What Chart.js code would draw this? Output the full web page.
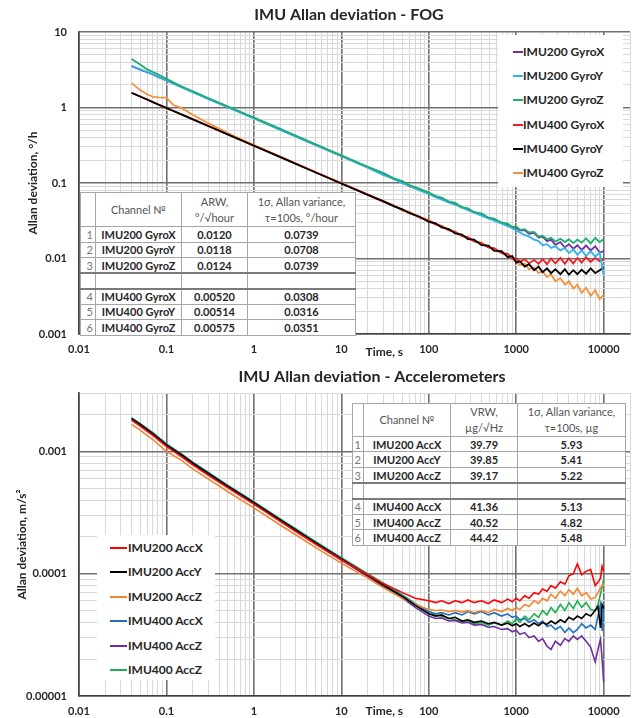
<!DOCTYPE html>
<html><head><meta charset="utf-8">
<script src="https://cdn.jsdelivr.net/npm/chart.js@4.4.1/dist/chart.umd.min.js"></script>
<style>
html,body{margin:0;padding:0;background:#fff;}
#wrap{position:relative;width:639px;height:718px;overflow:hidden;font-family:Lato,"Open Sans",sans-serif;}
canvas{position:absolute;left:0;}
#c1{top:0;} #c2{top:360px;}
.tbl{position:absolute;border-collapse:collapse;background:#fff;table-layout:fixed;}
.tbl td{border:1px solid #a6a6a6;padding:0;text-align:center;font-size:11px;font-weight:700;color:#262626;white-space:nowrap;overflow:hidden;line-height:1;}
.tbl td.n{font-weight:400;color:#777;text-align:right;padding-right:2px;}
.tbl tr.h td{font-weight:400;color:#555;line-height:1.45;}
.tbl tr.sep td{border-bottom:2px solid #7a7a7a;}
.tbl tr.blank td{border-bottom:2px solid #7a7a7a;}
.leg{position:absolute;background:#fff;}
.leg .it{position:absolute;left:0;height:14px;font-size:12px;font-weight:700;color:#262626;white-space:nowrap;line-height:14px;}
.leg .sw{position:absolute;height:2px;top:6px;}
.leg .tx{position:absolute;top:0;}
</style></head>
<body>
<div id="wrap">
<canvas id="c1" width="639" height="360"></canvas>
<canvas id="c2" width="639" height="358"></canvas>
</div>
<script>
// ---------------- data ----------------
const xTickLabels = ['0.01','0.1','1','10','100','1000','10000'];
const yTickLabelsGyro = ['0.001','0.01','0.1','1','10'];
const yTickLabelsAcc = ['0.00001','0.0001','0.001'];

const gyroNames = ['IMU200 GyroX','IMU200 GyroY','IMU200 GyroZ','IMU400 GyroX','IMU400 GyroY','IMU400 GyroZ'];
const gyroColors = ['#7030A0','#2FB4E6','#1FAE72','#F01E23','#000000','#F3923A'];

const tauGyro = [0.04,0.05,0.06,0.07,0.08,0.1,0.12,0.15,0.2,0.3,
 0.5,1,2,5,10,20,30,40,50,60,
 80,100,120,140,170,200,240,280,330,400,
 480,560,680,800,900,1000,1100,1250,1400,1600,
 1800,2000,2250,2500,2800,3200,3600,4000,4500,5000,
 5600,6300,7100,8000,9000,10000];

const imu200GyroX = [3.52,3.18,2.93,2.74,2.55,2.29,2.09,1.86,1.61,1.31,
 1.02,0.725,0.512,0.325,0.229,0.162,0.133,0.112,0.103,0.091,
 0.081,0.0735,0.0660,0.0625,0.0560,0.0530,0.0475,0.0450,0.0408,0.0385,
 0.0345,0.0330,0.0296,0.0283,0.0258,0.0255,0.0236,0.0238,0.0212,0.0218,
 0.0190,0.0195,0.0170,0.0178,0.0152,0.0165,0.0140,0.0155,0.0135,0.0150,
 0.0130,0.0148,0.0128,0.0145,0.0120,0.0125];
const imu200GyroY = [3.55,3.2,2.95,2.75,2.55,2.28,2.08,1.85,1.6,1.3,
 1.01,0.715,0.505,0.32,0.226,0.160,0.128,0.113,0.099,0.092,
 0.079,0.0715,0.0650,0.0605,0.0548,0.0515,0.0470,0.0438,0.0405,0.0370,
 0.0340,0.0318,0.0290,0.0268,0.0252,0.0235,0.0222,0.0205,0.0195,0.0178,
 0.0170,0.0150,0.0155,0.0138,0.0145,0.0128,0.0138,0.0118,0.0132,0.0112,
 0.0128,0.0108,0.0125,0.0106,0.0120,0.0060];
const imu200GyroZ = [4.4,3.7,3.2,2.95,2.75,2.4,2.15,1.9,1.64,1.33,
 1.04,0.735,0.52,0.328,0.232,0.164,0.136,0.115,0.106,0.094,
 0.083,0.0745,0.0670,0.0640,0.0570,0.0545,0.0478,0.0462,0.0410,0.0395,
 0.0348,0.0338,0.0298,0.0290,0.0262,0.0265,0.0240,0.0245,0.0222,0.0225,
 0.0195,0.0200,0.0180,0.0188,0.0168,0.0182,0.0165,0.0180,0.0160,0.0178,
 0.0162,0.0185,0.0158,0.0188,0.0165,0.0180];
const imu400GyroX = [1.57,1.4,1.28,1.18,1.105,0.99,0.9,0.808,0.70,0.571,
 0.442,0.313,0.222,0.140,0.0990,0.0700,0.0565,0.0500,0.0435,0.0408,
 0.0345,0.0318,0.0280,0.0268,0.0235,0.0225,0.0198,0.0190,0.0168,0.0160,
 0.0140,0.0136,0.0118,0.0115,0.0100,0.0100,0.0090,0.0098,0.0086,0.0096,
 0.0085,0.0098,0.0084,0.0100,0.0086,0.0102,0.0085,0.0100,0.0086,0.0102,
 0.0088,0.0104,0.0090,0.0102,0.0092,0.0098];
const imu400GyroY = [1.56,1.4,1.275,1.18,1.10,0.985,0.9,0.805,0.697,0.569,
 0.44,0.311,0.22,0.139,0.0985,0.0695,0.0575,0.049,0.0448,0.0398,
 0.0355,0.0305,0.0292,0.0258,0.0245,0.0215,0.0208,0.0180,0.0178,0.0150,
 0.0148,0.0126,0.0125,0.0104,0.0108,0.0088,0.0092,0.0078,0.0084,0.0070,
 0.0078,0.0066,0.0074,0.0064,0.0072,0.0062,0.0072,0.0061,0.0070,0.0062,
 0.0071,0.0063,0.0074,0.0064,0.0070,0.0076];
const imu400GyroZ = [2.1,1.7,1.5,1.38,1.36,1.35,1.08,0.98,0.8,0.62,
 0.46,0.318,0.224,0.141,0.1,0.071,0.058,0.0505,0.0445,0.0412,
 0.0352,0.0322,0.0288,0.0270,0.0242,0.0228,0.0200,0.0192,0.0170,0.0162,
 0.0140,0.0137,0.0118,0.0112,0.0098,0.0092,0.0082,0.0085,0.0072,0.0076,
 0.0064,0.0068,0.0057,0.0062,0.0050,0.0055,0.0045,0.0050,0.0040,0.0045,
 0.0035,0.0041,0.0032,0.0038,0.0029,0.0033];

const accNames = ['IMU200 AccX','IMU200 AccY','IMU200 AccZ','IMU400 AccX','IMU400 AccZ','IMU400 AccZ'];
const accColors = ['#FF0000','#000000','#F5862E','#1F70C1','#7030A0','#1DB04E'];

const tauAcc = [0.04,0.05,0.07,0.1,0.15,0.2,0.3,0.5,1,2,
 3,5,10,20,30,50,70,100,120,140,
 170,200,240,280,330,400,480,560,680,800,
 900,1000,1100,1250,1400,1600,1800,2000,2250,2500,
 2800,3200,3600,4000,4500,5000,5600,6300,7100,8000,
 8600,9200,9600,10000];

const imu200AccX = [1.80e-3,1.61e-3,1.35e-3,1.10e-3,9.0e-4,7.75e-4,6.4e-4,5.05e-4,3.7e-4,2.68e-4,
 2.22e-4,1.76e-4,1.30e-4,9.8e-5,8.3e-5,7.0e-5,6.3e-5,6.0e-5,5.8e-5,6.0e-5,
 5.7e-5,6.0e-5,5.8e-5,6.1e-5,5.8e-5,6.0e-5,5.7e-5,6.1e-5,5.8e-5,6.2e-5,
 5.9e-5,6.3e-5,6.0e-5,6.6e-5,6.3e-5,7.0e-5,6.8e-5,7.5e-5,7.2e-5,8.0e-5,
 7.6e-5,8.6e-5,8.2e-5,9.6e-5,1.0e-4,1.2e-4,9.8e-5,1.05e-4,1.08e-4,8.0e-5,
 8.5e-5,9.2e-5,1.15e-4,1.05e-4];
const imu200AccY = [1.85e-3,1.66e-3,1.39e-3,1.13e-3,9.3e-4,8.0e-4,6.6e-4,5.2e-4,3.8e-4,2.75e-4,
 2.28e-4,1.8e-4,1.32e-4,9.7e-5,8.1e-5,6.5e-5,5.5e-5,4.7e-5,4.5e-5,4.6e-5,
 4.3e-5,4.4e-5,4.1e-5,4.2e-5,4.0e-5,4.1e-5,3.9e-5,4.0e-5,3.8e-5,3.95e-5,
 3.75e-5,3.9e-5,3.7e-5,3.9e-5,3.7e-5,3.95e-5,3.75e-5,4.0e-5,3.85e-5,4.1e-5,
 3.9e-5,4.2e-5,4.0e-5,4.4e-5,4.2e-5,4.5e-5,4.3e-5,4.7e-5,4.5e-5,5.0e-5,
 5.4e-5,3.6e-5,5.6e-5,5.2e-5];
const imu200AccZ = [1.66e-3,1.49e-3,1.25e-3,1.0e-3,8.4e-4,7.2e-4,5.95e-4,4.7e-4,3.45e-4,2.5e-4,
 2.08e-4,1.65e-4,1.22e-4,9.2e-5,7.7e-5,6.3e-5,5.6e-5,5.1e-5,5.0e-5,5.05e-5,
 4.9e-5,5.0e-5,4.85e-5,5.0e-5,4.8e-5,5.0e-5,4.8e-5,5.1e-5,4.9e-5,5.2e-5,
 5.0e-5,5.3e-5,5.1e-5,5.6e-5,5.4e-5,6.0e-5,5.7e-5,6.3e-5,6.0e-5,6.8e-5,
 6.3e-5,7.2e-5,6.6e-5,7.4e-5,6.8e-5,7.6e-5,6.6e-5,7.0e-5,6.2e-5,6.4e-5,
 7.0e-5,7.6e-5,8.0e-5,8.3e-5];
const imu400AccX = [1.87e-3,1.67e-3,1.40e-3,1.14e-3,9.4e-4,8.1e-4,6.65e-4,5.25e-4,3.83e-4,2.77e-4,
 2.3e-4,1.81e-4,1.33e-4,9.8e-5,8.1e-5,6.6e-5,5.6e-5,4.9e-5,4.7e-5,4.8e-5,
 4.6e-5,4.8e-5,4.6e-5,4.9e-5,4.7e-5,4.9e-5,4.6e-5,4.8e-5,4.5e-5,4.7e-5,
 4.4e-5,4.5e-5,4.2e-5,4.3e-5,4.0e-5,4.2e-5,3.9e-5,4.1e-5,3.7e-5,3.8e-5,
 3.5e-5,3.7e-5,3.3e-5,3.6e-5,3.3e-5,3.5e-5,3.9e-5,3.6e-5,3.8e-5,3.5e-5,
 4.5e-5,5.6e-5,3.4e-5,5.5e-5];
const imu400AccZa = [1.82e-3,1.63e-3,1.36e-3,1.11e-3,9.1e-4,7.85e-4,6.45e-4,5.1e-4,3.72e-4,2.7e-4,
 2.23e-4,1.76e-4,1.29e-4,9.5e-5,7.9e-5,6.3e-5,5.3e-5,4.5e-5,4.3e-5,4.35e-5,
 4.1e-5,4.15e-5,3.95e-5,4.0e-5,3.8e-5,3.85e-5,3.65e-5,3.7e-5,3.5e-5,3.55e-5,
 3.35e-5,3.45e-5,3.2e-5,3.3e-5,3.0e-5,3.1e-5,2.8e-5,2.95e-5,2.55e-5,2.4e-5,
 2.8e-5,2.6e-5,2.95e-5,2.8e-5,3.1e-5,2.9e-5,3.1e-5,2.8e-5,2.5e-5,1.9e-5,
 2.4e-5,2.9e-5,2.0e-5,1.3e-5];
const imu400AccZb = [1.88e-3,1.69e-3,1.42e-3,1.15e-3,9.5e-4,8.15e-4,6.75e-4,5.3e-4,3.88e-4,2.8e-4,
 2.33e-4,1.84e-4,1.35e-4,1.0e-4,8.4e-5,6.7e-5,5.7e-5,4.9e-5,4.6e-5,4.5e-5,
 4.3e-5,4.2e-5,4.0e-5,4.1e-5,3.9e-5,4.0e-5,3.8e-5,3.95e-5,3.8e-5,4.1e-5,
 3.9e-5,4.3e-5,4.0e-5,4.5e-5,4.2e-5,4.7e-5,4.4e-5,5.0e-5,4.6e-5,5.3e-5,
 4.8e-5,5.6e-5,5.0e-5,5.8e-5,5.2e-5,6.0e-5,5.3e-5,5.8e-5,5.1e-5,5.0e-5,
 5.6e-5,6.8e-5,7.8e-5,9.0e-5];

// tables
const gyroChannels = ['IMU200 GyroX','IMU200 GyroY','IMU200 GyroZ','IMU400 GyroX','IMU400 GyroY','IMU400 GyroZ'];
const gyroARW = ['0.0120','0.0118','0.0124','0.00520','0.00514','0.00575'];
const gyroSigma = ['0.0739','0.0708','0.0739','0.0308','0.0316','0.0351'];
const accChannels = ['IMU200 AccX','IMU200 AccY','IMU200 AccZ','IMU400 AccX','IMU400 AccZ','IMU400 AccZ'];
const accVRW = ['39.79','39.85','39.17','41.36','40.52','44.42'];
const accSigma = ['5.93','5.41','5.22','5.13','4.82','5.48'];

// ---------------- helpers ----------------
Chart.defaults.font.family = 'Lato, "Open Sans", sans-serif';
function isDecade(v){ const l=Math.log10(v); return Math.abs(l-Math.round(l))<1e-6; }
function labelFor(list, v){ for (const s of list){ if (Math.abs(parseFloat(s)/v-1)<1e-6) return s; } return ''; }
function logTicks(min,max){ const out=[]; for(let e=-6;e<=5;e++){ for(let m=1;m<=9;m++){ const v=m*Math.pow(10,e); if(v>=min*(1-1e-9)&&v<=max*(1+1e-9)) out.push({value:v}); } } return out; }

const figText = { id:'figText', afterDraw(chart, args, o){
  const ctx=chart.ctx; ctx.save();
  ctx.fillStyle='#262626'; ctx.textAlign='center'; ctx.textBaseline='middle';
  ctx.font='bold 16px Lato'; ctx.fillText(o.title, o.titleX, o.titleY);
  ctx.font='bold 12px Lato';
  ctx.fillText('Time, s', chart.scales.x.getPixelForValue(o.timeAt), chart.chartArea.bottom+o.timeDy);
  ctx.restore(); } };

function gridOpts(){ return {drawTicks:false,
  color: c => (c.tick && isDecade(c.tick.value)) ? '#707070' : '#d9d9d9',
  lineWidth: c => (c.tick && isDecade(c.tick.value)) ? 1.6 : 1 }; }

function makeChart(id, cfg){
  const datasets = cfg.series.map((s,i)=>({label:cfg.names[i],
    data: cfg.tau.map((t,j)=>({x:t,y:s[j]})), borderColor:cfg.colors[i], backgroundColor:cfg.colors[i],
    borderWidth:cfg.lw, pointRadius:0, showLine:true, tension:0, order:cfg.order[i]}));
  return new Chart(document.getElementById(id), {
    type:'scatter', data:{datasets},
    options:{ responsive:false, animation:false, devicePixelRatio:1,
      layout:{padding:{left:0,right:4,top:cfg.padTop,bottom:0}},
      plugins:{legend:{display:false}, tooltip:{enabled:false}, figText:cfg.text},
      scales:{
        x:{type:'logarithmic', min:0.01, max:20000,
          afterBuildTicks:s=>{s.ticks=logTicks(0.01,20000);}, afterFit:s=>{s.height=cfg.xH;},
          ticks:{autoSkip:false, maxRotation:0, padding:9, color:'#262626', font:{size:11,weight:'bold'},
            callback:v=>labelFor(xTickLabels,v)},
          grid:gridOpts(), border:{color:'#404040', width:1.6}},
        y:{type:'logarithmic', min:cfg.yMin, max:cfg.yMax,
          afterBuildTicks:s=>{s.ticks=logTicks(cfg.yMin,cfg.yMax);}, afterFit:s=>{s.width=79;},
          ticks:{autoSkip:false, padding:12, color:'#262626', font:{size:11,weight:'bold'},
            callback:v=>labelFor(cfg.yLabels,v)},
          title:{display:true, text:cfg.yTitle, color:'#262626', font:{size:12,weight:'bold'}, padding:{top:cfg.yTitlePad,bottom:0}},
          grid:gridOpts(), border:{color:'#404040', width:1.6}}
      }},
    plugins:[figText]});
}

makeChart('c1', {tau:tauGyro, series:[imu200GyroX,imu200GyroY,imu200GyroZ,imu400GyroX,imu400GyroY,imu400GyroZ],
  names:gyroNames, colors:gyroColors, order:[3,2,1,5,4,6], lw:1.8, padTop:32, xH:26,
  yMin:0.001, yMax:10, yLabels:yTickLabelsGyro, yTitle:'Allan deviation, °/h', yTitlePad:26,
  text:{title:'IMU Allan deviation - FOG', titleX:349, titleY:15, timeAt:31, timeDy:18}});
makeChart('c2', {tau:tauAcc, series:[imu200AccX,imu200AccY,imu200AccZ,imu400AccX,imu400AccZa,imu400AccZb],
  names:accNames, colors:accColors, order:[1,2,3,4,5,6], lw:1.6, padTop:33, xH:22,
  yMin:0.00001, yMax:0.003, yLabels:yTickLabelsAcc, yTitle:'Allan deviation, m/s²', yTitlePad:15,
  text:{title:'IMU Allan deviation - Accelerometers', titleX:372, titleY:17, timeAt:31, timeDy:15}});

// ---------------- legends & tables (HTML) ----------------
const wrap = document.getElementById('wrap');
function legend(names, colors, box, first, step, swL, swW, txL){
  const d=document.createElement('div'); d.className='leg';
  Object.assign(d.style,{left:box[0]+'px',top:box[1]+'px',width:box[2]+'px',height:box[3]+'px'});
  names.forEach((n,i)=>{
    const it=document.createElement('div'); it.className='it'; it.style.top=(first+i*step-7)+'px'; it.style.width=box[2]+'px';
    it.innerHTML='<span class="sw" style="left:'+swL+'px;width:'+swW+'px;background:'+colors[i]+'"></span><span class="tx" style="left:'+txL+'px">'+n+'</span>';
    d.appendChild(it); });
  wrap.appendChild(d);
}
legend(gyroNames, gyroColors, [498,35,125,152], 17, 24.2, 15, 10, 25);
legend(accNames, accColors, [97,535,118,145], 13, 24.4, 13, 17, 31);

function table(pos, widths, head, names, c1, c2, hH, rH){
  const t=document.createElement('table'); t.className='tbl';
  t.style.left=pos[0]+'px'; t.style.top=pos[1]+'px';
  let h='<colgroup>'+widths.map(w=>'<col style="width:'+w+'px">').join('')+'</colgroup>';
  h+='<tr class="h" style="height:'+hH+'px"><td></td><td>'+head[0]+'</td><td>'+head[1]+'</td><td>'+head[2]+'</td></tr>';
  names.forEach((n,i)=>{
    const cls = i===2 ? 'sep' : '';
    h+='<tr class="'+cls+'" style="height:'+rH+'px"><td class="n">'+(i+1)+'</td><td>'+n+'</td><td>'+c1[i]+'</td><td>'+c2[i]+'</td></tr>';
    if(i===2) h+='<tr class="blank" style="height:'+rH+'px"><td></td><td></td><td></td><td></td></tr>';
  });
  t.innerHTML=h; wrap.appendChild(t);
}
table([80,192],[15,86,66,108],['Channel №','ARW,<br>°/√hour','1σ, Allan variance,<br>τ=100s, °/hour'],gyroChannels,gyroARW,gyroSigma,34,15.5);
table([352,403],[11,87,67,108],['Channel №','VRW,<br>µg/√Hz','1σ, Allan variance,<br>τ=100s, µg'],accChannels,accVRW,accSigma,31,15.6);
</script>
</body></html>
